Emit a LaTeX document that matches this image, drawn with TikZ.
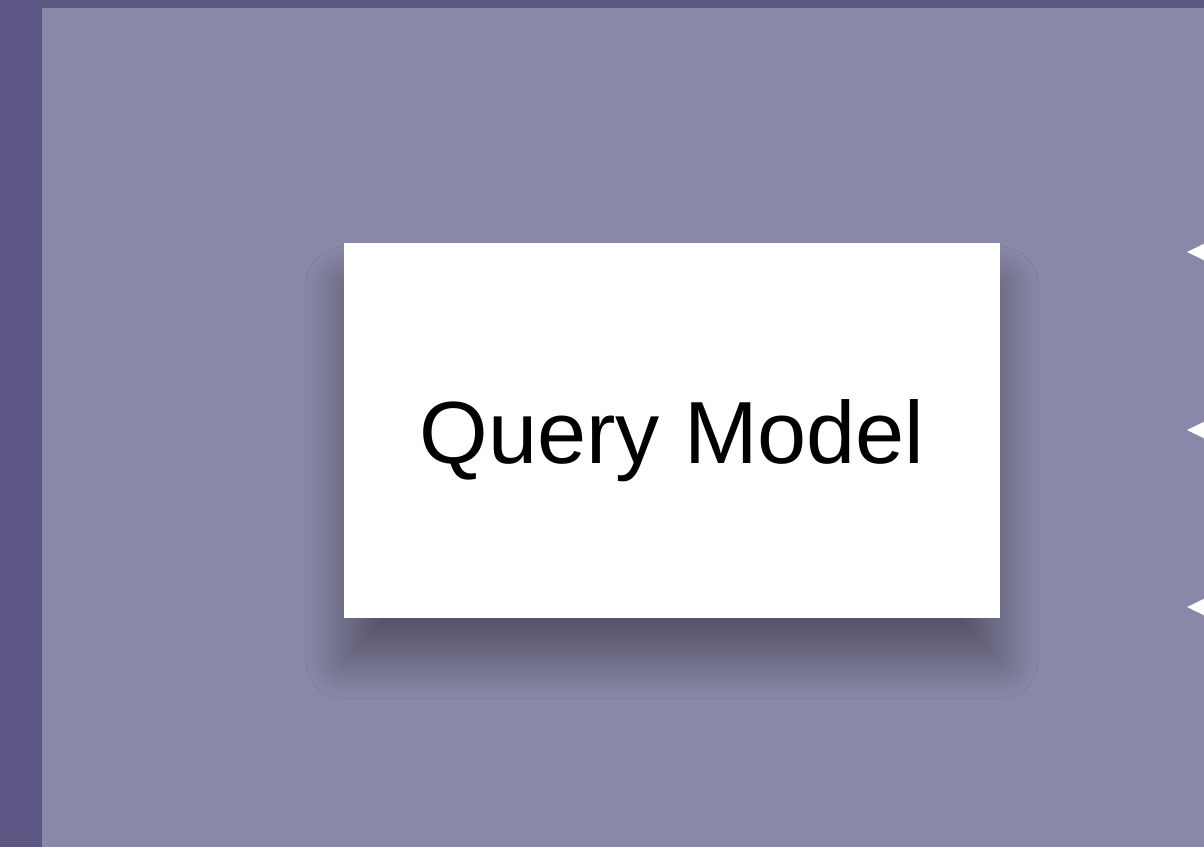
\documentclass[tikz,border=0pt]{standalone}
\usepackage{fontspec}
\setmainfont{Liberation Sans}
\usetikzlibrary{arrows.meta,shadows.blur}
\definecolor{outerbg}{RGB}{92,87,133}
\definecolor{panelbg}{RGB}{138,136,168}

\begin{document}
\begin{tikzpicture}[x=0.01cm,y=-0.01cm,
  modelbox/.style={fill=white, minimum width=6.56cm, minimum height=3.75cm, inner sep=0pt,
    font=\fontsize{25.1}{30}\selectfont, text height=0.65cm, text depth=0pt,
    blur shadow={shadow xshift=0cm, shadow yshift=-0.42cm, shadow blur radius=0.38cm,
      shadow blur steps=40, shadow opacity=38}},
  inarrow/.style={white, line width=0.5pt, -{Triangle[length=0.2cm,width=0.19cm]}}]
\fill[outerbg] (0,0) rectangle (1204,847);
\fill[panelbg] (42,8) rectangle (1204,847);
\clip (0,0) rectangle (1204,847);
\node[modelbox] (qm) at (672,430.5) {Query Model};
\coordinate (srcA) at (1260,252);
\coordinate (tipA) at (1187,252);
\coordinate (srcB) at (1260,430);
\coordinate (tipB) at (1187,430);
\coordinate (srcC) at (1260,607);
\coordinate (tipC) at (1187,607);
\draw[inarrow] (srcA) -- (tipA);
\draw[inarrow] (srcB) -- (tipB);
\draw[inarrow] (srcC) -- (tipC);
\end{tikzpicture}
\end{document}
